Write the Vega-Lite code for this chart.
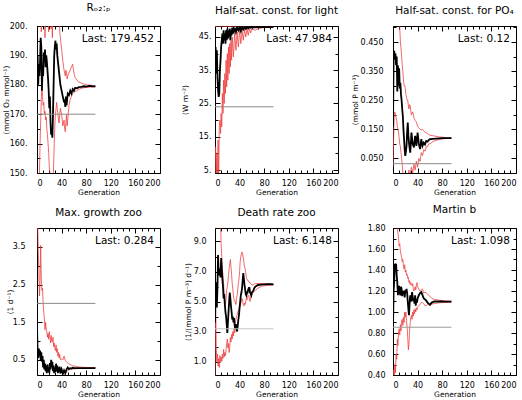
{
  "$schema": "https://vega.github.io/schema/vega-lite/v6.json",
  "background": "white",
  "padding": {"left": 1, "top": 2, "right": 0, "bottom": 0},
  "autosize": {"type": "pad"},
  "columns": 3,
  "spacing": {"row": 55, "column": 55},
  "bounds": "flush",
  "datasets": {
    "runs": [
      {"p":1,"g":0,"m":175,"lo":140,"hi":215},{"p":1,"g":1,"m":190,"lo":140,"hi":212},{"p":1,"g":2,"m":180,"lo":142,"hi":205},{"p":1,"g":3,"m":187,"lo":145,"hi":210},{"p":1,"g":4,"m":183,"lo":150,"hi":200},{"p":1,"g":5,"m":188,"lo":160,"hi":212},{"p":1,"g":6,"m":196,"lo":168,"hi":214},{"p":1,"g":7,"m":193,"lo":175,"hi":198},{"p":1,"g":8,"m":178,"lo":180,"hi":208},{"p":1,"g":9,"m":185,"lo":176,"hi":202},{"p":1,"g":10,"m":183,"lo":173,"hi":212},{"p":1,"g":11,"m":191,"lo":174,"hi":205},{"p":1,"g":12,"m":188,"lo":170,"hi":210},{"p":1,"g":13,"m":192,"lo":171,"hi":196},{"p":1,"g":14,"m":186,"lo":168,"hi":206},{"p":1,"g":15,"m":190,"lo":169,"hi":200},{"p":1,"g":16,"m":188,"lo":165,"hi":209},{"p":1,"g":17,"m":185,"lo":163,"hi":204},{"p":1,"g":18,"m":182,"lo":160,"hi":210},{"p":1,"g":19,"m":178,"lo":157,"hi":198},{"p":1,"g":20,"m":172,"lo":152,"hi":206},{"p":1,"g":21,"m":176,"lo":150,"hi":200},{"p":1,"g":22,"m":167,"lo":145,"hi":208},{"p":1,"g":23,"m":163,"lo":140,"hi":199},{"p":1,"g":24,"m":165,"lo":138,"hi":205},{"p":1,"g":25,"m":162,"lo":142,"hi":196},{"p":1,"g":26,"m":170,"lo":146,"hi":208},{"p":1,"g":27,"m":180,"lo":152,"hi":203},{"p":1,"g":28,"m":190,"lo":160,"hi":210},{"p":1,"g":29,"m":193,"lo":166,"hi":205},{"p":1,"g":30,"m":195,"lo":170,"hi":212},{"p":1,"g":31,"m":192,"lo":172,"hi":206},{"p":1,"g":32,"m":194,"lo":174,"hi":210},{"p":1,"g":33,"m":190,"lo":172,"hi":203},{"p":1,"g":34,"m":188,"lo":170,"hi":206},{"p":1,"g":35,"m":186,"lo":168,"hi":201},{"p":1,"g":36,"m":184,"lo":167,"hi":204},{"p":1,"g":37,"m":182,"lo":170,"hi":198},{"p":1,"g":38,"m":180,"lo":172,"hi":196},{"p":1,"g":40,"m":178,"lo":170,"hi":192},{"p":1,"g":42,"m":176,"lo":166,"hi":188},{"p":1,"g":44,"m":174,"lo":168,"hi":185},{"p":1,"g":45,"m":175,"lo":165,"hi":184},{"p":1,"g":46,"m":172.5,"lo":164,"hi":183},{"p":1,"g":47,"m":176,"lo":167,"hi":185},{"p":1,"g":48,"m":173,"lo":170,"hi":184},{"p":1,"g":49,"m":175,"lo":166,"hi":182},{"p":1,"g":50,"m":177,"lo":168,"hi":183},{"p":1,"g":52,"m":176.5,"lo":173,"hi":184},{"p":1,"g":54,"m":178,"lo":175,"hi":185},{"p":1,"g":56,"m":177,"lo":176,"hi":186},{"p":1,"g":58,"m":178.5,"lo":177,"hi":187},{"p":1,"g":60,"m":178,"lo":177.5,"hi":184},{"p":1,"g":62,"m":179,"lo":177.8,"hi":182.5},{"p":1,"g":65,"m":178.8,"lo":178,"hi":181.5},{"p":1,"g":68,"m":179.2,"lo":178.5,"hi":181},{"p":1,"g":72,"m":179.3,"lo":178.8,"hi":180.6},{"p":1,"g":76,"m":179.5,"lo":179,"hi":180.3},{"p":1,"g":80,"m":179.4,"lo":179.1,"hi":180},{"p":1,"g":85,"m":179.6,"lo":179.2,"hi":179.9},{"p":1,"g":90,"m":179.5,"lo":179.3,"hi":179.8},{"p":1,"g":95,"m":179.452,"lo":179.35,"hi":179.6},

      {"p":2,"g":0,"m":33,"lo":4.5,"hi":48.2},{"p":2,"g":1,"m":42,"lo":12,"hi":48.2},{"p":2,"g":2,"m":34,"lo":3,"hi":48.2},{"p":2,"g":3,"m":41,"lo":10,"hi":48.2},{"p":2,"g":4,"m":33,"lo":3,"hi":48.3},{"p":2,"g":5,"m":29,"lo":14,"hi":48.2},{"p":2,"g":6,"m":27,"lo":3,"hi":48.3},{"p":2,"g":7,"m":28,"lo":18,"hi":48.2},{"p":2,"g":8,"m":35,"lo":20,"hi":48.2},{"p":2,"g":9,"m":38,"lo":16,"hi":48.3},{"p":2,"g":10,"m":42,"lo":22,"hi":48.2},{"p":2,"g":11,"m":44,"lo":18,"hi":48.2},{"p":2,"g":12,"m":46,"lo":28,"hi":48.3},{"p":2,"g":13,"m":43,"lo":22,"hi":48.2},{"p":2,"g":14,"m":47,"lo":32,"hi":48.3},{"p":2,"g":15,"m":44,"lo":25,"hi":48.2},{"p":2,"g":16,"m":46,"lo":34,"hi":48.3},{"p":2,"g":17,"m":43,"lo":28,"hi":48.2},{"p":2,"g":18,"m":47,"lo":38,"hi":48.3},{"p":2,"g":19,"m":44,"lo":30,"hi":48.2},{"p":2,"g":20,"m":47.5,"lo":40,"hi":48.3},{"p":2,"g":21,"m":44.5,"lo":32,"hi":48.2},{"p":2,"g":22,"m":47,"lo":42,"hi":48.3},{"p":2,"g":23,"m":45,"lo":34,"hi":48.2},{"p":2,"g":24,"m":47.5,"lo":43,"hi":48.3},{"p":2,"g":25,"m":44,"lo":36,"hi":48.2},{"p":2,"g":26,"m":47,"lo":44,"hi":48.3},{"p":2,"g":27,"m":45.5,"lo":38,"hi":48.2},{"p":2,"g":28,"m":47.8,"lo":45,"hi":48.3},{"p":2,"g":30,"m":46,"lo":39,"hi":48.2},{"p":2,"g":32,"m":47.8,"lo":46,"hi":48.3},{"p":2,"g":34,"m":46.5,"lo":41,"hi":48.2},{"p":2,"g":36,"m":47.9,"lo":46.5,"hi":48.3},{"p":2,"g":38,"m":47,"lo":42,"hi":48.3},{"p":2,"g":40,"m":48,"lo":47,"hi":48.3},{"p":2,"g":42,"m":46.8,"lo":43,"hi":48.3},{"p":2,"g":44,"m":47.9,"lo":47,"hi":48.3},{"p":2,"g":46,"m":47.3,"lo":44,"hi":48.3},{"p":2,"g":48,"m":48,"lo":47.3,"hi":48.3},{"p":2,"g":50,"m":47.5,"lo":45,"hi":48.3},{"p":2,"g":52,"m":48,"lo":47.4,"hi":48.3},{"p":2,"g":54,"m":47.6,"lo":45.5,"hi":48.3},{"p":2,"g":56,"m":48,"lo":47.5,"hi":48.3},{"p":2,"g":58,"m":47.8,"lo":46.2,"hi":48.3},{"p":2,"g":60,"m":48,"lo":47.6,"hi":48.3},{"p":2,"g":65,"m":47.9,"lo":47,"hi":48.3},{"p":2,"g":70,"m":48,"lo":47.5,"hi":48.3},{"p":2,"g":75,"m":47.95,"lo":47.7,"hi":48.2},{"p":2,"g":80,"m":48,"lo":47.8,"hi":48.2},{"p":2,"g":85,"m":47.98,"lo":47.85,"hi":48.1},{"p":2,"g":90,"m":47.99,"lo":47.9,"hi":48.1},{"p":2,"g":95,"m":47.984,"lo":47.92,"hi":48.05},

      {"p":3,"g":0,"m":0.16,"lo":0.02,"hi":0.55},{"p":3,"g":1,"m":0.4,"lo":0.12,"hi":0.6},{"p":3,"g":2,"m":0.42,"lo":0.2,"hi":0.58},{"p":3,"g":3,"m":0.39,"lo":0.21,"hi":0.62},{"p":3,"g":4,"m":0.41,"lo":0.2,"hi":0.6},{"p":3,"g":5,"m":0.37,"lo":0.19,"hi":0.57},{"p":3,"g":6,"m":0.4,"lo":0.18,"hi":0.6},{"p":3,"g":7,"m":0.28,"lo":0.16,"hi":0.56},{"p":3,"g":8,"m":0.37,"lo":0.15,"hi":0.58},{"p":3,"g":9,"m":0.3,"lo":0.14,"hi":0.54},{"p":3,"g":10,"m":0.36,"lo":0.12,"hi":0.55},{"p":3,"g":11,"m":0.29,"lo":0.1,"hi":0.5},{"p":3,"g":12,"m":0.31,"lo":0.09,"hi":0.45},{"p":3,"g":13,"m":0.27,"lo":0.07,"hi":0.43},{"p":3,"g":14,"m":0.25,"lo":0.05,"hi":0.4},{"p":3,"g":15,"m":0.22,"lo":0.03,"hi":0.37},{"p":3,"g":16,"m":0.196,"lo":0.0,"hi":0.35},{"p":3,"g":17,"m":0.15,"lo":-0.01,"hi":0.32},{"p":3,"g":18,"m":0.116,"lo":-0.02,"hi":0.3},{"p":3,"g":19,"m":0.08,"lo":-0.03,"hi":0.3},{"p":3,"g":20,"m":0.059,"lo":-0.03,"hi":0.29},{"p":3,"g":21,"m":0.075,"lo":-0.01,"hi":0.27},{"p":3,"g":22,"m":0.093,"lo":0.0,"hi":0.26},{"p":3,"g":23,"m":0.14,"lo":-0.02,"hi":0.25},{"p":3,"g":24,"m":0.173,"lo":-0.02,"hi":0.25},{"p":3,"g":25,"m":0.13,"lo":0.0,"hi":0.23},{"p":3,"g":26,"m":0.104,"lo":0.01,"hi":0.22},{"p":3,"g":27,"m":0.085,"lo":-0.01,"hi":0.235},{"p":3,"g":28,"m":0.07,"lo":-0.01,"hi":0.23},{"p":3,"g":29,"m":0.1,"lo":0.01,"hi":0.21},{"p":3,"g":30,"m":0.139,"lo":0.02,"hi":0.2},{"p":3,"g":32,"m":0.1,"lo":0.0,"hi":0.21},{"p":3,"g":34,"m":0.088,"lo":0.03,"hi":0.19},{"p":3,"g":36,"m":0.128,"lo":0.01,"hi":0.18},{"p":3,"g":38,"m":0.093,"lo":0.04,"hi":0.175},{"p":3,"g":40,"m":0.139,"lo":0.02,"hi":0.16},{"p":3,"g":42,"m":0.1,"lo":0.05,"hi":0.155},{"p":3,"g":44,"m":0.082,"lo":0.04,"hi":0.15},{"p":3,"g":46,"m":0.116,"lo":0.07,"hi":0.148},{"p":3,"g":48,"m":0.093,"lo":0.06,"hi":0.15},{"p":3,"g":50,"m":0.104,"lo":0.08,"hi":0.145},{"p":3,"g":52,"m":0.098,"lo":0.075,"hi":0.14},{"p":3,"g":54,"m":0.11,"lo":0.09,"hi":0.138},{"p":3,"g":56,"m":0.108,"lo":0.09,"hi":0.135},{"p":3,"g":58,"m":0.113,"lo":0.1,"hi":0.132},{"p":3,"g":60,"m":0.116,"lo":0.1,"hi":0.13},{"p":3,"g":65,"m":0.117,"lo":0.108,"hi":0.128},{"p":3,"g":70,"m":0.118,"lo":0.112,"hi":0.126},{"p":3,"g":75,"m":0.119,"lo":0.115,"hi":0.124},{"p":3,"g":80,"m":0.12,"lo":0.117,"hi":0.123},{"p":3,"g":85,"m":0.12,"lo":0.118,"hi":0.122},{"p":3,"g":90,"m":0.12,"lo":0.119,"hi":0.121},{"p":3,"g":95,"m":0.12,"lo":0.119,"hi":0.121},

      {"p":4,"g":0,"m":1.4,"lo":0.05,"hi":4.2},{"p":4,"g":1,"m":0.7,"lo":0.05,"hi":4.2},{"p":4,"g":2,"m":0.55,"lo":0.05,"hi":3.4},{"p":4,"g":3,"m":0.8,"lo":0.05,"hi":2.9},{"p":4,"g":4,"m":0.6,"lo":0.05,"hi":2.2},{"p":4,"g":5,"m":0.75,"lo":0.05,"hi":2.6},{"p":4,"g":6,"m":0.5,"lo":0.05,"hi":3.54},{"p":4,"g":7,"m":0.7,"lo":0.05,"hi":2.65},{"p":4,"g":8,"m":0.45,"lo":0.05,"hi":2.34},{"p":4,"g":9,"m":0.6,"lo":0.05,"hi":2.4},{"p":4,"g":10,"m":0.3,"lo":0.05,"hi":2.0},{"p":4,"g":11,"m":0.5,"lo":0.05,"hi":1.77},{"p":4,"g":12,"m":0.25,"lo":0.05,"hi":1.6},{"p":4,"g":13,"m":0.4,"lo":0.05,"hi":1.3},{"p":4,"g":14,"m":0.2,"lo":0.05,"hi":1.5},{"p":4,"g":15,"m":0.35,"lo":0.05,"hi":1.3},{"p":4,"g":16,"m":0.15,"lo":0.05,"hi":1.25},{"p":4,"g":17,"m":0.38,"lo":0.05,"hi":1.1},{"p":4,"g":18,"m":0.2,"lo":0.05,"hi":1.2},{"p":4,"g":19,"m":0.3,"lo":0.05,"hi":1.05},{"p":4,"g":20,"m":0.15,"lo":0.05,"hi":1.25},{"p":4,"g":21,"m":0.42,"lo":0.05,"hi":1.1},{"p":4,"g":22,"m":0.25,"lo":0.05,"hi":0.95},{"p":4,"g":23,"m":0.5,"lo":0.05,"hi":1.15},{"p":4,"g":24,"m":0.3,"lo":0.05,"hi":1.0},{"p":4,"g":25,"m":0.45,"lo":0.05,"hi":0.97},{"p":4,"g":26,"m":0.2,"lo":0.05,"hi":1.1},{"p":4,"g":27,"m":0.35,"lo":0.05,"hi":0.85},{"p":4,"g":28,"m":0.15,"lo":0.05,"hi":0.95},{"p":4,"g":29,"m":0.3,"lo":0.05,"hi":0.8},{"p":4,"g":30,"m":0.18,"lo":0.05,"hi":0.75},{"p":4,"g":31,"m":0.4,"lo":0.05,"hi":0.9},{"p":4,"g":32,"m":0.2,"lo":0.05,"hi":0.7},{"p":4,"g":33,"m":0.35,"lo":0.05,"hi":0.8},{"p":4,"g":34,"m":0.15,"lo":0.05,"hi":0.6},{"p":4,"g":35,"m":0.3,"lo":0.05,"hi":0.7},{"p":4,"g":36,"m":0.18,"lo":0.05,"hi":0.55},{"p":4,"g":37,"m":0.32,"lo":0.05,"hi":0.65},{"p":4,"g":38,"m":0.14,"lo":0.05,"hi":0.5},{"p":4,"g":40,"m":0.25,"lo":0.06,"hi":0.53},{"p":4,"g":42,"m":0.13,"lo":0.08,"hi":0.5},{"p":4,"g":44,"m":0.22,"lo":0.1,"hi":0.6},{"p":4,"g":46,"m":0.15,"lo":0.12,"hi":0.48},{"p":4,"g":48,"m":0.25,"lo":0.18,"hi":0.45},{"p":4,"g":50,"m":0.3,"lo":0.22,"hi":0.42},{"p":4,"g":52,"m":0.26,"lo":0.24,"hi":0.4},{"p":4,"g":54,"m":0.28,"lo":0.25,"hi":0.37},{"p":4,"g":56,"m":0.27,"lo":0.25,"hi":0.36},{"p":4,"g":58,"m":0.29,"lo":0.26,"hi":0.34},{"p":4,"g":60,"m":0.28,"lo":0.26,"hi":0.34},{"p":4,"g":65,"m":0.285,"lo":0.27,"hi":0.32},{"p":4,"g":70,"m":0.284,"lo":0.275,"hi":0.31},{"p":4,"g":75,"m":0.285,"lo":0.277,"hi":0.305},{"p":4,"g":80,"m":0.284,"lo":0.278,"hi":0.3},{"p":4,"g":85,"m":0.284,"lo":0.278,"hi":0.3},{"p":4,"g":90,"m":0.284,"lo":0.279,"hi":0.298},{"p":4,"g":95,"m":0.284,"lo":0.279,"hi":0.298},

      {"p":5,"g":0,"m":3.6,"lo":0.05,"hi":10.5},{"p":5,"g":1,"m":6.3,"lo":5.5,"hi":10.5},{"p":5,"g":2,"m":5.4,"lo":2.0,"hi":10.5},{"p":5,"g":3,"m":4.6,"lo":1.0,"hi":10.5},{"p":5,"g":4,"m":6.0,"lo":1.5,"hi":10.2},{"p":5,"g":5,"m":8.1,"lo":0.7,"hi":10.5},{"p":5,"g":6,"m":6.75,"lo":1.2,"hi":10.3},{"p":5,"g":7,"m":7.0,"lo":0.6,"hi":10.5},{"p":5,"g":8,"m":7.2,"lo":1.4,"hi":10.0},{"p":5,"g":9,"m":6.6,"lo":1.0,"hi":10.4},{"p":5,"g":10,"m":7.9,"lo":1.3,"hi":8.8},{"p":5,"g":11,"m":7.2,"lo":1.0,"hi":8.0},{"p":5,"g":12,"m":6.5,"lo":1.5,"hi":7.2},{"p":5,"g":13,"m":6.0,"lo":1.2,"hi":6.7},{"p":5,"g":14,"m":5.2,"lo":1.8,"hi":6.2},{"p":5,"g":15,"m":5.5,"lo":1.3,"hi":5.4},{"p":5,"g":16,"m":4.8,"lo":1.6,"hi":5.0},{"p":5,"g":17,"m":4.3,"lo":1.4,"hi":4.8},{"p":5,"g":18,"m":4.0,"lo":1.8,"hi":5.2},{"p":5,"g":19,"m":3.5,"lo":2.2,"hi":5.8},{"p":5,"g":20,"m":2.9,"lo":2.5,"hi":6.0},{"p":5,"g":21,"m":3.6,"lo":1.9,"hi":6.3},{"p":5,"g":22,"m":4.3,"lo":2.2,"hi":6.8},{"p":5,"g":23,"m":5.0,"lo":1.6,"hi":7.2},{"p":5,"g":24,"m":5.6,"lo":2.0,"hi":7.5},{"p":5,"g":25,"m":5.2,"lo":2.6,"hi":7.8},{"p":5,"g":26,"m":4.7,"lo":2.3,"hi":7.3},{"p":5,"g":27,"m":4.3,"lo":2.8,"hi":6.8},{"p":5,"g":28,"m":3.8,"lo":2.5,"hi":6.2},{"p":5,"g":29,"m":4.0,"lo":3.0,"hi":5.8},{"p":5,"g":30,"m":3.6,"lo":2.7,"hi":5.4},{"p":5,"g":31,"m":3.9,"lo":3.2,"hi":5.1},{"p":5,"g":32,"m":3.4,"lo":2.9,"hi":5.0},{"p":5,"g":33,"m":3.2,"lo":3.6,"hi":5.0},{"p":5,"g":34,"m":3.5,"lo":3.8,"hi":4.8},{"p":5,"g":35,"m":3.1,"lo":4.0,"hi":5.2},{"p":5,"g":36,"m":3.0,"lo":4.1,"hi":5.4},{"p":5,"g":37,"m":3.4,"lo":4.3,"hi":5.8},{"p":5,"g":38,"m":3.8,"lo":4.4,"hi":6.2},{"p":5,"g":39,"m":4.1,"lo":4.5,"hi":6.5},{"p":5,"g":40,"m":4.6,"lo":4.6,"hi":7.0},{"p":5,"g":41,"m":5.0,"lo":4.7,"hi":7.7},{"p":5,"g":42,"m":5.4,"lo":4.9,"hi":8.0},{"p":5,"g":43,"m":5.6,"lo":5.0,"hi":8.2},{"p":5,"g":44,"m":5.9,"lo":5.2,"hi":8.3},{"p":5,"g":45,"m":6.4,"lo":5.0,"hi":8.1},{"p":5,"g":46,"m":6.9,"lo":4.8,"hi":7.9},{"p":5,"g":47,"m":6.5,"lo":4.7,"hi":7.6},{"p":5,"g":48,"m":6.1,"lo":4.9,"hi":7.3},{"p":5,"g":49,"m":5.8,"lo":4.8,"hi":7.2},{"p":5,"g":50,"m":5.5,"lo":5.0,"hi":6.9},{"p":5,"g":51,"m":5.4,"lo":5.2,"hi":6.6},{"p":5,"g":52,"m":5.6,"lo":5.1,"hi":6.5},{"p":5,"g":53,"m":5.6,"lo":5.3,"hi":6.4},{"p":5,"g":54,"m":5.8,"lo":5.4,"hi":6.4},{"p":5,"g":55,"m":5.9,"lo":5.4,"hi":6.3},{"p":5,"g":56,"m":5.9,"lo":5.1,"hi":6.3},{"p":5,"g":57,"m":5.6,"lo":5.0,"hi":6.2},{"p":5,"g":58,"m":5.5,"lo":5.3,"hi":6.2},{"p":5,"g":59,"m":5.4,"lo":5.4,"hi":6.15},{"p":5,"g":60,"m":5.6,"lo":5.5,"hi":6.1},{"p":5,"g":62,"m":5.7,"lo":5.6,"hi":6.1},{"p":5,"g":64,"m":5.9,"lo":5.7,"hi":6.15},{"p":5,"g":66,"m":6.0,"lo":5.75,"hi":6.2},{"p":5,"g":70,"m":6.1,"lo":5.9,"hi":6.2},{"p":5,"g":75,"m":6.12,"lo":6.0,"hi":6.2},{"p":5,"g":80,"m":6.14,"lo":6.05,"hi":6.18},{"p":5,"g":85,"m":6.15,"lo":6.08,"hi":6.17},{"p":5,"g":90,"m":6.15,"lo":6.1,"hi":6.17},{"p":5,"g":95,"m":6.148,"lo":6.1,"hi":6.16},

      {"p":6,"g":0,"m":0.85,"lo":0.35,"hi":1.9},{"p":6,"g":1,"m":1.2,"lo":0.45,"hi":1.9},{"p":6,"g":2,"m":1.3,"lo":0.38,"hi":1.9},{"p":6,"g":3,"m":1.46,"lo":0.5,"hi":1.9},{"p":6,"g":4,"m":1.42,"lo":0.42,"hi":1.85},{"p":6,"g":5,"m":1.46,"lo":0.6,"hi":1.9},{"p":6,"g":6,"m":1.35,"lo":0.55,"hi":1.82},{"p":6,"g":7,"m":1.28,"lo":0.74,"hi":1.79},{"p":6,"g":8,"m":1.16,"lo":0.68,"hi":1.75},{"p":6,"g":9,"m":1.22,"lo":0.8,"hi":1.7},{"p":6,"g":10,"m":1.25,"lo":0.84,"hi":1.63},{"p":6,"g":11,"m":1.18,"lo":0.78,"hi":1.65},{"p":6,"g":12,"m":1.16,"lo":0.88,"hi":1.58},{"p":6,"g":13,"m":1.24,"lo":0.82,"hi":1.55},{"p":6,"g":14,"m":1.22,"lo":0.92,"hi":1.52},{"p":6,"g":15,"m":1.15,"lo":0.93,"hi":1.48},{"p":6,"g":16,"m":1.2,"lo":0.87,"hi":1.5},{"p":6,"g":17,"m":1.17,"lo":0.95,"hi":1.44},{"p":6,"g":18,"m":1.2,"lo":0.9,"hi":1.41},{"p":6,"g":19,"m":1.14,"lo":1.0,"hi":1.45},{"p":6,"g":20,"m":1.2,"lo":0.95,"hi":1.38},{"p":6,"g":21,"m":1.2,"lo":1.0,"hi":1.4},{"p":6,"g":22,"m":1.22,"lo":0.92,"hi":1.35},{"p":6,"g":23,"m":1.18,"lo":0.85,"hi":1.36},{"p":6,"g":24,"m":1.1,"lo":0.75,"hi":1.32},{"p":6,"g":25,"m":1.03,"lo":0.64,"hi":1.33},{"p":6,"g":26,"m":0.97,"lo":0.7,"hi":1.28},{"p":6,"g":27,"m":1.08,"lo":0.82,"hi":1.3},{"p":6,"g":28,"m":1.16,"lo":0.9,"hi":1.26},{"p":6,"g":29,"m":1.1,"lo":0.95,"hi":1.28},{"p":6,"g":30,"m":1.12,"lo":0.97,"hi":1.27},{"p":6,"g":31,"m":1.19,"lo":0.93,"hi":1.25},{"p":6,"g":32,"m":1.15,"lo":1.0,"hi":1.27},{"p":6,"g":33,"m":1.1,"lo":0.96,"hi":1.22},{"p":6,"g":34,"m":1.13,"lo":1.02,"hi":1.2},{"p":6,"g":35,"m":1.08,"lo":0.98,"hi":1.22},{"p":6,"g":36,"m":1.16,"lo":1.03,"hi":1.24},{"p":6,"g":37,"m":1.06,"lo":1.0,"hi":1.21},{"p":6,"g":38,"m":1.12,"lo":1.04,"hi":1.26},{"p":6,"g":39,"m":1.09,"lo":1.02,"hi":1.28},{"p":6,"g":40,"m":1.13,"lo":1.05,"hi":1.24},{"p":6,"g":42,"m":1.16,"lo":1.06,"hi":1.22},{"p":6,"g":44,"m":1.18,"lo":1.07,"hi":1.2},{"p":6,"g":46,"m":1.19,"lo":1.09,"hi":1.21},{"p":6,"g":48,"m":1.16,"lo":1.09,"hi":1.22},{"p":6,"g":50,"m":1.13,"lo":1.08,"hi":1.18},{"p":6,"g":52,"m":1.12,"lo":1.06,"hi":1.19},{"p":6,"g":54,"m":1.11,"lo":1.06,"hi":1.18},{"p":6,"g":56,"m":1.09,"lo":1.07,"hi":1.17},{"p":6,"g":58,"m":1.08,"lo":1.07,"hi":1.16},{"p":6,"g":60,"m":1.07,"lo":1.06,"hi":1.15},{"p":6,"g":63,"m":1.09,"lo":1.075,"hi":1.13},{"p":6,"g":67,"m":1.1,"lo":1.08,"hi":1.12},{"p":6,"g":72,"m":1.1,"lo":1.085,"hi":1.115},{"p":6,"g":78,"m":1.1,"lo":1.09,"hi":1.11},{"p":6,"g":85,"m":1.099,"lo":1.09,"hi":1.105},{"p":6,"g":90,"m":1.098,"lo":1.092,"hi":1.103},{"p":6,"g":95,"m":1.098,"lo":1.093,"hi":1.102}
    ],
    "refs": [
      {"p":1,"g0":0,"g1":95,"v":170},
      {"p":2,"g0":0,"g1":95,"v":24},
      {"p":3,"g0":0,"g1":95,"v":0.032},
      {"p":4,"g0":0,"g1":95,"v":2},
      {"p":5,"g0":0,"g1":95,"v":3.18},
      {"p":6,"g0":0,"g1":95,"v":0.855}
    ]
  },
  "concat": [
    {
      "width": 123, "height": 147,
      "title": {"text": "Rₒ₂:ₚ"},
      "resolve": {"axis": {"x": "independent", "y": "independent"}},
      "layer": [
        {"data": {"name": "runs"}, "transform": [{"filter": "datum.p == 1"}],
         "mark": {"type": "line", "color": "#ee3a3a", "strokeWidth": 0.9, "opacity": 0.85, "clip": true},
         "encoding": {
           "x": {"field": "g", "type": "quantitative", "scale": {"domain": [0, 200], "nice": false},
                 "axis": {"orient": "bottom", "values": [0,40,80,120,160,200], "tickSize": -5, "labelPadding": 11, "title": "Generation", "titlePadding": 1}},
           "y": {"field": "hi", "type": "quantitative", "scale": {"domain": [150, 200], "nice": false, "zero": false},
                 "axis": {"orient": "left", "values": [150,160,170,180,190,200], "tickSize": -5, "labelPadding": 15, "titlePadding": -1, "labelExpr": "format(datum.value, 'd') + '.'", "title": "(mmol O₂ mmol⁻¹)"}}
         }},
        {"data": {"name": "runs"}, "transform": [{"filter": "datum.p == 1"}],
         "mark": {"type": "line", "color": "#ee3a3a", "strokeWidth": 0.9, "opacity": 0.85, "clip": true},
         "encoding": {
           "x": {"field": "g", "type": "quantitative", "axis": {"orient": "bottom", "values": [10,20,30,50,60,70,90,100,110,130,140,150,170,180,190], "tickSize": -3, "labels": false, "title": null}},
           "y": {"field": "lo", "type": "quantitative", "axis": {"orient": "left", "values": [155,165,175,185,195], "tickSize": -3, "labels": false, "title": null}}
         }},
        {"data": {"name": "runs"}, "transform": [{"filter": "datum.p == 1"}],
         "mark": {"type": "line", "color": "black", "strokeWidth": 1.8, "clip": true},
         "encoding": {
           "x": {"field": "g", "type": "quantitative", "axis": {"orient": "top", "values": [0,40,80,120,160,200], "tickSize": -5, "labels": false, "title": null}},
           "y": {"field": "m", "type": "quantitative", "axis": {"orient": "right", "values": [150,160,170,180,190,200], "tickSize": -5, "labels": false, "title": null}}
         }},
        {"data": {"name": "refs"}, "transform": [{"filter": "datum.p == 1"}],
         "mark": {"type": "rule", "color": "#8a8a8a", "strokeWidth": 1},
         "encoding": {
           "x": {"field": "g0", "type": "quantitative", "axis": {"orient": "top", "values": [10,20,30,50,60,70,90,100,110,130,140,150,170,180,190], "tickSize": -3, "labels": false, "title": null}},
           "x2": {"field": "g1"},
           "y": {"field": "v", "type": "quantitative", "axis": {"orient": "right", "values": [155,165,175,185,195], "tickSize": -3, "labels": false, "title": null}}
         }},
        {"data": {"name": "runs"}, "transform": [{"filter": "datum.p == 1 && datum.g == 95"}, {"calculate": "'Last: ' + datum.m", "as": "label"}],
         "mark": {"type": "text", "align": "right", "baseline": "alphabetic", "dy": 16, "fontSize": 10.5, "color": "black"},
         "encoding": {"x": {"datum": 190, "type": "quantitative", "axis": null}, "y": {"datum": 200, "type": "quantitative", "axis": null}, "text": {"field": "label"}}}
      ]
    },
    {
      "width": 123, "height": 147,
      "title": {"text": "Half-sat. const. for light"},
      "resolve": {"axis": {"x": "independent", "y": "independent"}},
      "layer": [
        {"data": {"name": "runs"}, "transform": [{"filter": "datum.p == 2"}],
         "mark": {"type": "line", "color": "#ee3a3a", "strokeWidth": 0.9, "opacity": 0.85, "clip": true},
         "encoding": {
           "x": {"field": "g", "type": "quantitative", "scale": {"domain": [0, 200], "nice": false},
                 "axis": {"orient": "bottom", "values": [0,40,80,120,160,200], "tickSize": -5, "labelPadding": 11, "title": "Generation", "titlePadding": 1}},
           "y": {"field": "hi", "type": "quantitative", "scale": {"domain": [4.1, 48.3], "nice": false, "zero": false},
                 "axis": {"orient": "left", "values": [5,15,25,35,45], "tickSize": -5, "labelPadding": 9, "titlePadding": 9, "labelExpr": "format(datum.value, 'd') + '.'", "title": "(W m⁻²)"}}
         }},
        {"data": {"name": "runs"}, "transform": [{"filter": "datum.p == 2"}],
         "mark": {"type": "line", "color": "#ee3a3a", "strokeWidth": 0.9, "opacity": 0.85, "clip": true},
         "encoding": {
           "x": {"field": "g", "type": "quantitative", "axis": {"orient": "bottom", "values": [10,20,30,50,60,70,90,100,110,130,140,150,170,180,190], "tickSize": -3, "labels": false, "title": null}},
           "y": {"field": "lo", "type": "quantitative", "axis": {"orient": "left", "values": [10,20,30,40], "tickSize": -3, "labels": false, "title": null}}
         }},
        {"data": {"name": "runs"}, "transform": [{"filter": "datum.p == 2"}],
         "mark": {"type": "line", "color": "black", "strokeWidth": 1.8, "clip": true},
         "encoding": {
           "x": {"field": "g", "type": "quantitative", "axis": {"orient": "top", "values": [0,40,80,120,160,200], "tickSize": -5, "labels": false, "title": null}},
           "y": {"field": "m", "type": "quantitative", "axis": {"orient": "right", "values": [5,15,25,35,45], "tickSize": -5, "labels": false, "title": null}}
         }},
        {"data": {"name": "refs"}, "transform": [{"filter": "datum.p == 2"}],
         "mark": {"type": "rule", "color": "#8a8a8a", "strokeWidth": 1},
         "encoding": {
           "x": {"field": "g0", "type": "quantitative", "axis": {"orient": "top", "values": [10,20,30,50,60,70,90,100,110,130,140,150,170,180,190], "tickSize": -3, "labels": false, "title": null}},
           "x2": {"field": "g1"},
           "y": {"field": "v", "type": "quantitative", "axis": {"orient": "right", "values": [10,20,30,40], "tickSize": -3, "labels": false, "title": null}}
         }},
        {"data": {"name": "runs"}, "transform": [{"filter": "datum.p == 2 && datum.g == 95"}, {"calculate": "'Last: ' + datum.m", "as": "label"}],
         "mark": {"type": "text", "align": "right", "baseline": "alphabetic", "dy": 16, "fontSize": 10.5, "color": "black"},
         "encoding": {"x": {"datum": 190, "type": "quantitative", "axis": null}, "y": {"datum": 48.3, "type": "quantitative", "axis": null}, "text": {"field": "label"}}}
      ]
    },
    {
      "width": 123, "height": 147,
      "title": {"text": "Half-sat. const. for PO₄"},
      "resolve": {"axis": {"x": "independent", "y": "independent"}},
      "layer": [
        {"data": {"name": "runs"}, "transform": [{"filter": "datum.p == 3"}],
         "mark": {"type": "line", "color": "#ee3a3a", "strokeWidth": 0.9, "opacity": 0.85, "clip": true},
         "encoding": {
           "x": {"field": "g", "type": "quantitative", "scale": {"domain": [0, 200], "nice": false},
                 "axis": {"orient": "bottom", "values": [0,40,80,120,160,200], "tickSize": -5, "labelPadding": 11, "title": "Generation", "titlePadding": 1}},
           "y": {"field": "hi", "type": "quantitative", "scale": {"domain": [0, 0.505], "nice": false, "zero": false},
                 "axis": {"orient": "left", "values": [0.05,0.15,0.25,0.35,0.45], "tickSize": -5, "labelPadding": 15, "titlePadding": 1, "format": ".3f", "title": "(mmol P m⁻³)"}}
         }},
        {"data": {"name": "runs"}, "transform": [{"filter": "datum.p == 3"}],
         "mark": {"type": "line", "color": "#ee3a3a", "strokeWidth": 0.9, "opacity": 0.85, "clip": true},
         "encoding": {
           "x": {"field": "g", "type": "quantitative", "axis": {"orient": "bottom", "values": [10,20,30,50,60,70,90,100,110,130,140,150,170,180,190], "tickSize": -3, "labels": false, "title": null}},
           "y": {"field": "lo", "type": "quantitative", "axis": {"orient": "left", "values": [0.1,0.2,0.3,0.4,0.5], "tickSize": -3, "labels": false, "title": null}}
         }},
        {"data": {"name": "runs"}, "transform": [{"filter": "datum.p == 3"}],
         "mark": {"type": "line", "color": "black", "strokeWidth": 1.8, "clip": true},
         "encoding": {
           "x": {"field": "g", "type": "quantitative", "axis": {"orient": "top", "values": [0,40,80,120,160,200], "tickSize": -5, "labels": false, "title": null}},
           "y": {"field": "m", "type": "quantitative", "axis": {"orient": "right", "values": [0.05,0.15,0.25,0.35,0.45], "tickSize": -5, "labels": false, "title": null}}
         }},
        {"data": {"name": "refs"}, "transform": [{"filter": "datum.p == 3"}],
         "mark": {"type": "rule", "color": "#8a8a8a", "strokeWidth": 1},
         "encoding": {
           "x": {"field": "g0", "type": "quantitative", "axis": {"orient": "top", "values": [10,20,30,50,60,70,90,100,110,130,140,150,170,180,190], "tickSize": -3, "labels": false, "title": null}},
           "x2": {"field": "g1"},
           "y": {"field": "v", "type": "quantitative", "axis": {"orient": "right", "values": [0.1,0.2,0.3,0.4,0.5], "tickSize": -3, "labels": false, "title": null}}
         }},
        {"data": {"name": "runs"}, "transform": [{"filter": "datum.p == 3 && datum.g == 95"}, {"calculate": "'Last: ' + datum.m", "as": "label"}],
         "mark": {"type": "text", "align": "right", "baseline": "alphabetic", "dy": 16, "fontSize": 10.5, "color": "black"},
         "encoding": {"x": {"datum": 190, "type": "quantitative", "axis": null}, "y": {"datum": 0.505, "type": "quantitative", "axis": null}, "text": {"field": "label"}}}
      ]
    },
    {
      "width": 123, "height": 147,
      "title": {"text": "Max. growth zoo"},
      "resolve": {"axis": {"x": "independent", "y": "independent"}},
      "layer": [
        {"data": {"name": "runs"}, "transform": [{"filter": "datum.p == 4"}],
         "mark": {"type": "line", "color": "#ee3a3a", "strokeWidth": 0.9, "opacity": 0.85, "clip": true},
         "encoding": {
           "x": {"field": "g", "type": "quantitative", "scale": {"domain": [0, 200], "nice": false},
                 "axis": {"orient": "bottom", "values": [0,40,80,120,160,200], "tickSize": -5, "labelPadding": 11, "title": "Generation", "titlePadding": 1}},
           "y": {"field": "hi", "type": "quantitative", "scale": {"domain": [0.1, 4.0], "nice": false, "zero": false},
                 "axis": {"orient": "left", "values": [0.5,1.5,2.5,3.5], "tickSize": -5, "labelPadding": 17, "titlePadding": -2, "format": ".1f", "title": "(1 d⁻¹)"}}
         }},
        {"data": {"name": "runs"}, "transform": [{"filter": "datum.p == 4"}],
         "mark": {"type": "line", "color": "#ee3a3a", "strokeWidth": 0.9, "opacity": 0.85, "clip": true},
         "encoding": {
           "x": {"field": "g", "type": "quantitative", "axis": {"orient": "bottom", "values": [10,20,30,50,60,70,90,100,110,130,140,150,170,180,190], "tickSize": -3, "labels": false, "title": null}},
           "y": {"field": "lo", "type": "quantitative", "axis": {"orient": "left", "values": [1,2,3], "tickSize": -3, "labels": false, "title": null}}
         }},
        {"data": {"name": "runs"}, "transform": [{"filter": "datum.p == 4"}],
         "mark": {"type": "line", "color": "black", "strokeWidth": 1.8, "clip": true},
         "encoding": {
           "x": {"field": "g", "type": "quantitative", "axis": {"orient": "top", "values": [0,40,80,120,160,200], "tickSize": -5, "labels": false, "title": null}},
           "y": {"field": "m", "type": "quantitative", "axis": {"orient": "right", "values": [0.5,1.5,2.5,3.5], "tickSize": -5, "labels": false, "title": null}}
         }},
        {"data": {"name": "refs"}, "transform": [{"filter": "datum.p == 4"}],
         "mark": {"type": "rule", "color": "#8a8a8a", "strokeWidth": 1},
         "encoding": {
           "x": {"field": "g0", "type": "quantitative", "axis": {"orient": "top", "values": [10,20,30,50,60,70,90,100,110,130,140,150,170,180,190], "tickSize": -3, "labels": false, "title": null}},
           "x2": {"field": "g1"},
           "y": {"field": "v", "type": "quantitative", "axis": {"orient": "right", "values": [1,2,3], "tickSize": -3, "labels": false, "title": null}}
         }},
        {"data": {"name": "runs"}, "transform": [{"filter": "datum.p == 4 && datum.g == 95"}, {"calculate": "'Last: ' + datum.m", "as": "label"}],
         "mark": {"type": "text", "align": "right", "baseline": "alphabetic", "dy": 16, "fontSize": 10.5, "color": "black"},
         "encoding": {"x": {"datum": 190, "type": "quantitative", "axis": null}, "y": {"datum": 4.0, "type": "quantitative", "axis": null}, "text": {"field": "label"}}}
      ]
    },
    {
      "width": 123, "height": 147,
      "title": {"text": "Death rate zoo"},
      "resolve": {"axis": {"x": "independent", "y": "independent"}},
      "layer": [
        {"data": {"name": "runs"}, "transform": [{"filter": "datum.p == 5"}],
         "mark": {"type": "line", "color": "#ee3a3a", "strokeWidth": 0.9, "opacity": 0.85, "clip": true},
         "encoding": {
           "x": {"field": "g", "type": "quantitative", "scale": {"domain": [0, 200], "nice": false},
                 "axis": {"orient": "bottom", "values": [0,40,80,120,160,200], "tickSize": -5, "labelPadding": 11, "title": "Generation", "titlePadding": 1}},
           "y": {"field": "hi", "type": "quantitative", "scale": {"domain": [0.1, 9.9], "nice": false, "zero": false},
                 "axis": {"orient": "left", "values": [1,3,5,7,9], "tickSize": -5, "labelPadding": 14, "titlePadding": 1, "format": ".1f", "title": "(1/(mmol P m⁻³) d⁻¹)"}}
         }},
        {"data": {"name": "runs"}, "transform": [{"filter": "datum.p == 5"}],
         "mark": {"type": "line", "color": "#ee3a3a", "strokeWidth": 0.9, "opacity": 0.85, "clip": true},
         "encoding": {
           "x": {"field": "g", "type": "quantitative", "axis": {"orient": "bottom", "values": [10,20,30,50,60,70,90,100,110,130,140,150,170,180,190], "tickSize": -3, "labels": false, "title": null}},
           "y": {"field": "lo", "type": "quantitative", "axis": {"orient": "left", "values": [2,4,6,8], "tickSize": -3, "labels": false, "title": null}}
         }},
        {"data": {"name": "runs"}, "transform": [{"filter": "datum.p == 5"}],
         "mark": {"type": "line", "color": "black", "strokeWidth": 1.8, "clip": true},
         "encoding": {
           "x": {"field": "g", "type": "quantitative", "axis": {"orient": "top", "values": [0,40,80,120,160,200], "tickSize": -5, "labels": false, "title": null}},
           "y": {"field": "m", "type": "quantitative", "axis": {"orient": "right", "values": [1,3,5,7,9], "tickSize": -5, "labels": false, "title": null}}
         }},
        {"data": {"name": "refs"}, "transform": [{"filter": "datum.p == 5"}],
         "mark": {"type": "rule", "color": "#c4c4c4", "strokeWidth": 1},
         "encoding": {
           "x": {"field": "g0", "type": "quantitative", "axis": {"orient": "top", "values": [10,20,30,50,60,70,90,100,110,130,140,150,170,180,190], "tickSize": -3, "labels": false, "title": null}},
           "x2": {"field": "g1"},
           "y": {"field": "v", "type": "quantitative", "axis": {"orient": "right", "values": [2,4,6,8], "tickSize": -3, "labels": false, "title": null}}
         }},
        {"data": {"name": "runs"}, "transform": [{"filter": "datum.p == 5 && datum.g == 95"}, {"calculate": "'Last: ' + datum.m", "as": "label"}],
         "mark": {"type": "text", "align": "right", "baseline": "alphabetic", "dy": 16, "fontSize": 10.5, "color": "black"},
         "encoding": {"x": {"datum": 190, "type": "quantitative", "axis": null}, "y": {"datum": 9.9, "type": "quantitative", "axis": null}, "text": {"field": "label"}}}
      ]
    },
    {
      "width": 123, "height": 147,
      "title": {"text": "Martin b"},
      "resolve": {"axis": {"x": "independent", "y": "independent"}},
      "layer": [
        {"data": {"name": "runs"}, "transform": [{"filter": "datum.p == 6"}],
         "mark": {"type": "line", "color": "#ee3a3a", "strokeWidth": 0.9, "opacity": 0.85, "clip": true},
         "encoding": {
           "x": {"field": "g", "type": "quantitative", "scale": {"domain": [0, 200], "nice": false},
                 "axis": {"orient": "bottom", "values": [0,40,80,120,160,200], "tickSize": -5, "labelPadding": 11, "title": "Generation", "titlePadding": 1}},
           "y": {"field": "hi", "type": "quantitative", "scale": {"domain": [0.4, 1.8], "nice": false, "zero": false},
                 "axis": {"orient": "left", "values": [0.4,0.6,0.8,1.0,1.2,1.4,1.6,1.8], "tickSize": -5, "labelPadding": 13, "format": ".2f", "title": null}}
         }},
        {"data": {"name": "runs"}, "transform": [{"filter": "datum.p == 6"}],
         "mark": {"type": "line", "color": "#ee3a3a", "strokeWidth": 0.9, "opacity": 0.85, "clip": true},
         "encoding": {
           "x": {"field": "g", "type": "quantitative", "axis": {"orient": "bottom", "values": [10,20,30,50,60,70,90,100,110,130,140,150,170,180,190], "tickSize": -3, "labels": false, "title": null}},
           "y": {"field": "lo", "type": "quantitative", "axis": {"orient": "left", "values": [0.5,0.7,0.9,1.1,1.3,1.5,1.7], "tickSize": -3, "labels": false, "title": null}}
         }},
        {"data": {"name": "runs"}, "transform": [{"filter": "datum.p == 6"}],
         "mark": {"type": "line", "color": "black", "strokeWidth": 1.8, "clip": true},
         "encoding": {
           "x": {"field": "g", "type": "quantitative", "axis": {"orient": "top", "values": [0,40,80,120,160,200], "tickSize": -5, "labels": false, "title": null}},
           "y": {"field": "m", "type": "quantitative", "axis": {"orient": "right", "values": [0.4,0.6,0.8,1.0,1.2,1.4,1.6,1.8], "tickSize": -5, "labels": false, "title": null}}
         }},
        {"data": {"name": "refs"}, "transform": [{"filter": "datum.p == 6"}],
         "mark": {"type": "rule", "color": "#9a9a9a", "strokeWidth": 1},
         "encoding": {
           "x": {"field": "g0", "type": "quantitative", "axis": {"orient": "top", "values": [10,20,30,50,60,70,90,100,110,130,140,150,170,180,190], "tickSize": -3, "labels": false, "title": null}},
           "x2": {"field": "g1"},
           "y": {"field": "v", "type": "quantitative", "axis": {"orient": "right", "values": [0.5,0.7,0.9,1.1,1.3,1.5,1.7], "tickSize": -3, "labels": false, "title": null}}
         }},
        {"data": {"name": "runs"}, "transform": [{"filter": "datum.p == 6 && datum.g == 95"}, {"calculate": "'Last: ' + datum.m", "as": "label"}],
         "mark": {"type": "text", "align": "right", "baseline": "alphabetic", "dy": 16, "fontSize": 10.5, "color": "black"},
         "encoding": {"x": {"datum": 190, "type": "quantitative", "axis": null}, "y": {"datum": 1.8, "type": "quantitative", "axis": null}, "text": {"field": "label"}}}
      ]
    }
  ],
  "config": {
    "font": "DejaVu Sans",
    "view": {"stroke": "black", "strokeWidth": 1},
    "axis": {
      "domain": false, "grid": false,
      "tickColor": "black", "tickWidth": 1,
      "labelColor": "black", "labelFont": "DejaVu Sans", "labelFontSize": 8,
      "titleColor": "black", "titleFont": "DejaVu Sans", "titleFontSize": 7.5, "titleFontWeight": "normal",
      "titlePadding": 3
    },
    "title": {"font": "DejaVu Sans", "fontSize": 10.5, "fontWeight": "normal", "color": "black", "offset": 9},
    "text": {"font": "DejaVu Sans"}
  }
}
